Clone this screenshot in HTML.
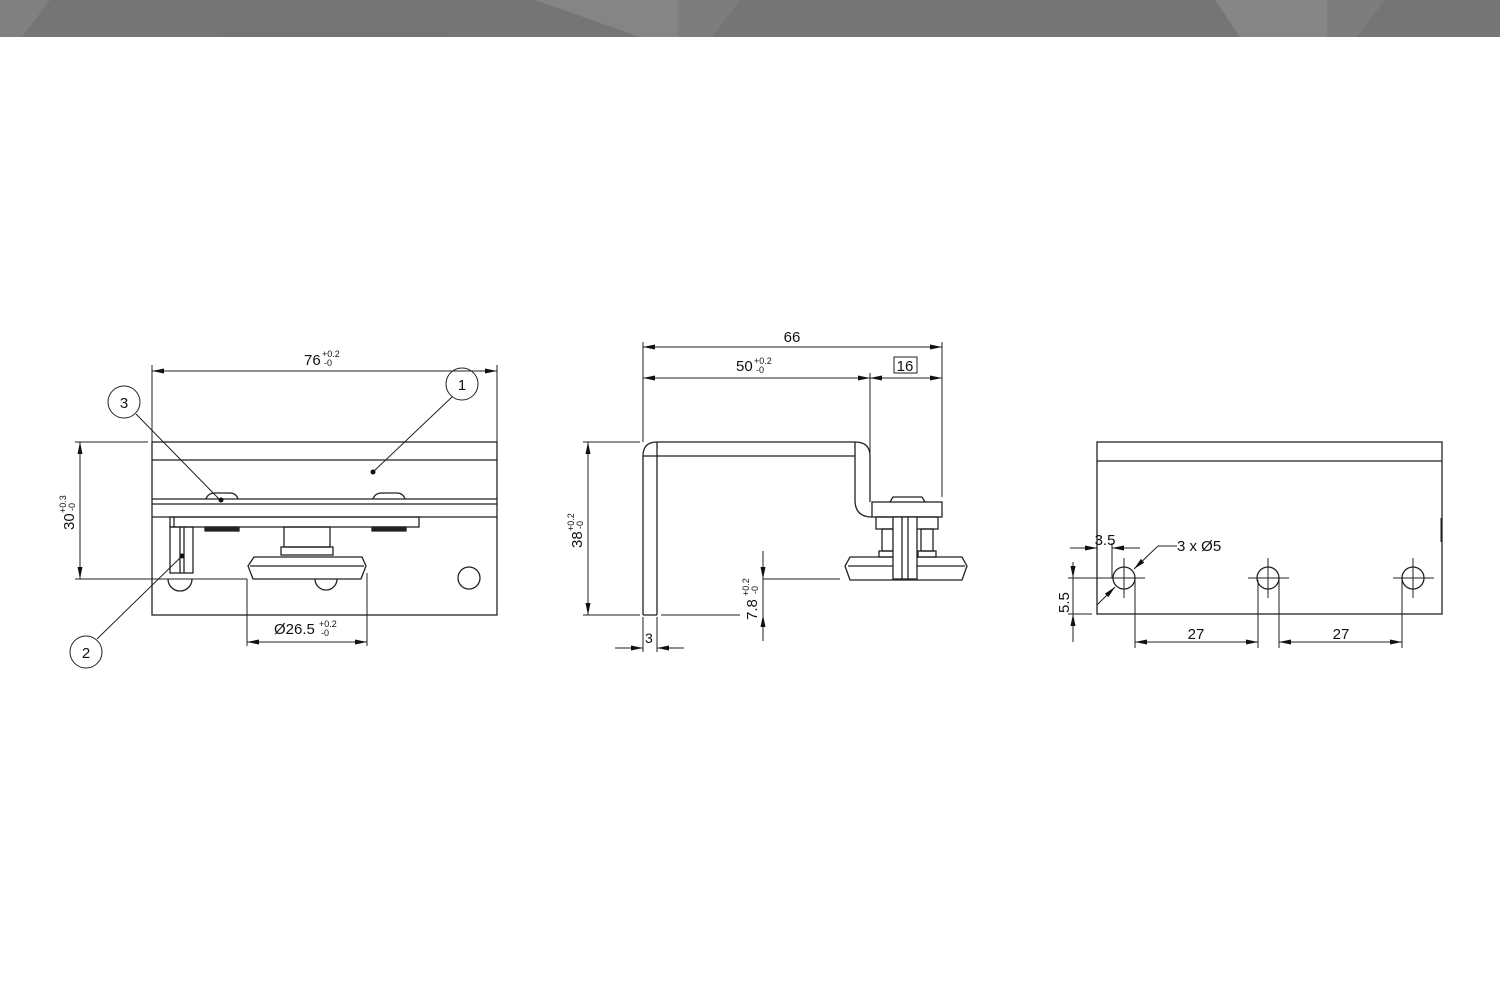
<!DOCTYPE html>
<html><head><meta charset="utf-8"><style>
html,body{margin:0;padding:0;background:#fff;}
svg{display:block;}
text{font-family:"Liberation Sans",sans-serif;fill:#111;}
</style></head><body>
<svg width="1500" height="1000" viewBox="0 0 1500 1000" xmlns="http://www.w3.org/2000/svg">
<defs>
<marker id="a" viewBox="0 0 12 6" refX="12" refY="3" markerWidth="12" markerHeight="6" orient="auto-start-reverse" markerUnits="userSpaceOnUse"><path d="M0,0.5 L12,3 L0,5.5z" fill="#111"/></marker>
</defs>
<!-- header -->
<rect x="0" y="0" width="1500" height="37" fill="#757575"/>
<polygon points="0,0 50,0 22,37 0,37" fill="#808080"/>
<polygon points="195,0 470,0 445,37 225,37" fill="#747474"/>
<polygon points="535,0 678,0 678,37 640,37" fill="#858585"/>
<polygon points="678,0 740,0 712,37 678,37" fill="#7d7d7d"/>
<polygon points="1215,0 1327,0 1327,37 1240,37" fill="#868686"/>
<polygon points="1327,0 1385,0 1357,37 1327,37" fill="#7d7d7d"/>

<g fill="none" stroke="#222" stroke-width="1.3">
<!-- VIEW 1 -->
<rect x="152" y="442" width="345" height="173"/>
<line x1="152" y1="460" x2="497" y2="460"/>
<line x1="152" y1="499" x2="497" y2="499"/>
<line x1="152" y1="504" x2="497" y2="504"/>
<line x1="152" y1="517" x2="497" y2="517"/>
<rect x="170" y="517" width="249" height="10"/>
<line x1="174" y1="517" x2="174" y2="527"/>
<path d="M206,499 Q208,493 215,493 L230,493 Q236,493 238,499"/>
<path d="M373,499 Q375,493 382,493 L397,493 Q403,493 405,499"/>
<rect x="205" y="527" width="34" height="4" fill="#222"/>
<rect x="372" y="527" width="34" height="4" fill="#222"/>
<rect x="170" y="527" width="23" height="46"/>
<line x1="180" y1="527" x2="180" y2="573"/><line x1="184" y1="527" x2="184" y2="573"/>
<path d="M168,579 A12,12 0 0 0 192,579"/>
<rect x="284" y="527" width="46" height="20"/>
<rect x="281" y="547" width="52" height="8"/>
<path d="M254,557 L362,557 L366,566 L361,579 L253,579 L248,566 Z"/>
<line x1="250" y1="566" x2="364" y2="566"/>
<path d="M315,579 A11,11 0 0 0 337,579"/>
<circle cx="469" cy="578" r="11"/>
</g>
<g stroke="#222" stroke-width="1" fill="none">
<!-- dims v1 -->
<line x1="152" y1="365" x2="152" y2="442"/><line x1="497" y1="365" x2="497" y2="442"/>
<line x1="152" y1="371" x2="497" y2="371" marker-start="url(#a)" marker-end="url(#a)"/>
<line x1="75" y1="442" x2="148" y2="442"/><line x1="75" y1="579" x2="247" y2="579"/>
<line x1="80" y1="442" x2="80" y2="579" marker-start="url(#a)" marker-end="url(#a)"/>
<line x1="247" y1="579" x2="247" y2="646"/><line x1="367" y1="573" x2="367" y2="646"/>
<line x1="247" y1="642" x2="367" y2="642" marker-start="url(#a)" marker-end="url(#a)"/>
<circle cx="462" cy="384" r="16"/><circle cx="124" cy="402" r="16"/><circle cx="86" cy="652" r="16"/>
<line x1="452" y1="397" x2="373" y2="472"/>
<line x1="136" y1="414" x2="221" y2="501"/>
<line x1="97" y1="639" x2="182" y2="556"/>
</g>
<g fill="#111"><circle cx="373" cy="472" r="2.5"/><circle cx="221" cy="500" r="2.5"/><circle cx="182" cy="556" r="2.5"/></g>
<text x="304" y="365" font-size="15">76</text>
<text x="322" y="357" font-size="9">+0.2</text><text x="324" y="366" font-size="9">-0</text>
<text x="462" y="390" font-size="15" text-anchor="middle">1</text>
<text x="124" y="408" font-size="15" text-anchor="middle">3</text>
<text x="86" y="658" font-size="15" text-anchor="middle">2</text>
<text x="274" y="634" font-size="15">Ø26.5</text>
<text x="319" y="627" font-size="9">+0.2</text><text x="321" y="636" font-size="9">-0</text>
<g transform="translate(74,530) rotate(-90)"><text x="0" y="0" font-size="15">30</text><text x="17" y="-8" font-size="9">+0.3</text><text x="19" y="1" font-size="9">-0</text></g>

<!-- VIEW 2 -->
<g fill="none" stroke="#222" stroke-width="1.3">
<path d="M643,615 L643,456 Q643,442 657,442 L855,442 Q870,442 870,456 L870,502"/>
<path d="M657,615 L643,615 M657,615 L657,456 L855,456 L855,500 Q855,517 872,517"/>
<line x1="643" y1="456" x2="657" y2="456"/>
<line x1="657" y1="442" x2="657" y2="456"/><line x1="855" y1="442" x2="855" y2="456"/>
<rect x="872" y="502" width="70" height="15"/>
<path d="M890,502 L893,497 L922,497 L925,502"/>
<rect x="876" y="517" width="62" height="12"/>
<rect x="882" y="529" width="12" height="22"/><rect x="921" y="529" width="12" height="22"/>
<rect x="879" y="551" width="18" height="6"/><rect x="918" y="551" width="18" height="6"/>
<path d="M850,557 L962,557 L967,566 L962,580 L850,580 L845,566 Z"/>
<line x1="848" y1="566" x2="965" y2="566"/>
<rect x="893" y="517" width="24" height="62" fill="#fff"/>
<line x1="902" y1="517" x2="902" y2="579"/><line x1="908" y1="517" x2="908" y2="579"/>
</g>
<g stroke="#222" stroke-width="1" fill="none">
<line x1="643" y1="342" x2="643" y2="442"/><line x1="870" y1="373" x2="870" y2="500"/><line x1="942" y1="342" x2="942" y2="497"/>
<line x1="643" y1="347" x2="942" y2="347" marker-start="url(#a)" marker-end="url(#a)"/>
<line x1="643" y1="378" x2="870" y2="378" marker-start="url(#a)" marker-end="url(#a)"/>
<line x1="870" y1="378" x2="942" y2="378" marker-start="url(#a)" marker-end="url(#a)"/>
<rect x="894" y="357" width="23" height="16"/>
<line x1="583" y1="442" x2="640" y2="442"/><line x1="583" y1="615" x2="640" y2="615"/><line x1="661" y1="615" x2="740" y2="615"/>
<line x1="588" y1="442" x2="588" y2="615" marker-start="url(#a)" marker-end="url(#a)"/>
<line x1="763" y1="579" x2="840" y2="579"/>
<line x1="763" y1="551" x2="763" y2="579" marker-end="url(#a)"/>
<line x1="763" y1="641" x2="763" y2="615" marker-end="url(#a)"/>
<line x1="763" y1="579" x2="763" y2="615"/>
<line x1="643" y1="617" x2="643" y2="652"/><line x1="657" y1="617" x2="657" y2="652"/>
<line x1="615" y1="648" x2="643" y2="648" marker-end="url(#a)"/>
<line x1="684" y1="648" x2="657" y2="648" marker-end="url(#a)"/>
</g>
<text x="792" y="342" font-size="15" text-anchor="middle">66</text>
<text x="736" y="371" font-size="15">50</text>
<text x="754" y="364" font-size="9">+0.2</text><text x="756" y="373" font-size="9">-0</text>
<text x="905" y="371" font-size="15" text-anchor="middle">16</text>
<text x="645" y="643" font-size="14">3</text>
<g transform="translate(582,548) rotate(-90)"><text x="0" y="0" font-size="15">38</text><text x="17" y="-8" font-size="9">+0.2</text><text x="19" y="1" font-size="9">-0</text></g>
<g transform="translate(757,620) rotate(-90)"><text x="0" y="0" font-size="15">7.8</text><text x="24" y="-8" font-size="9">+0.2</text><text x="26" y="1" font-size="9">-0</text></g>

<!-- VIEW 3 -->
<g fill="none" stroke="#222" stroke-width="1.3">
<rect x="1097" y="442" width="345" height="172"/>
<line x1="1097" y1="461" x2="1442" y2="461"/>
<circle cx="1124" cy="578" r="11"/><circle cx="1268" cy="578" r="11"/><circle cx="1413" cy="578" r="11"/>
</g>
<g stroke="#222" stroke-width="1" fill="none">
<line x1="1104" y1="578" x2="1145" y2="578"/><line x1="1124" y1="558" x2="1124" y2="598"/>
<line x1="1248" y1="578" x2="1289" y2="578"/><line x1="1268" y1="558" x2="1268" y2="598"/>
<line x1="1393" y1="578" x2="1434" y2="578"/><line x1="1413" y1="558" x2="1413" y2="598"/>
<line x1="1135" y1="580" x2="1135" y2="648"/><line x1="1258" y1="580" x2="1258" y2="648"/>
<line x1="1279" y1="580" x2="1279" y2="648"/><line x1="1402" y1="580" x2="1402" y2="648"/>
<line x1="1135" y1="642" x2="1258" y2="642" marker-start="url(#a)" marker-end="url(#a)"/>
<line x1="1279" y1="642" x2="1402" y2="642" marker-start="url(#a)" marker-end="url(#a)"/>
<line x1="1112" y1="543" x2="1112" y2="578"/>
<line x1="1070" y1="548" x2="1097" y2="548" marker-end="url(#a)"/>
<line x1="1140" y1="548" x2="1112" y2="548" marker-end="url(#a)"/>
<line x1="1068" y1="578" x2="1105" y2="578"/><line x1="1068" y1="614" x2="1092" y2="614"/>
<line x1="1073" y1="562" x2="1073" y2="578" marker-end="url(#a)"/>
<line x1="1073" y1="642" x2="1073" y2="614" marker-end="url(#a)"/>
<line x1="1073" y1="578" x2="1073" y2="614"/>
<polyline points="1177,546 1158,546 1134,569" marker-end="url(#a)"/>
<line x1="1097" y1="605" x2="1115" y2="587" marker-end="url(#a)"/>
<line x1="1441" y1="518" x2="1441" y2="542"/>
</g>
<text x="1105" y="545" font-size="15" text-anchor="middle">3.5</text>
<text x="1177" y="551" font-size="15">3 x Ø5</text>
<text x="1196" y="639" font-size="15" text-anchor="middle">27</text>
<text x="1341" y="639" font-size="15" text-anchor="middle">27</text>
<g transform="translate(1069,613) rotate(-90)"><text x="0" y="0" font-size="15">5.5</text></g>
</svg>
</body></html>
